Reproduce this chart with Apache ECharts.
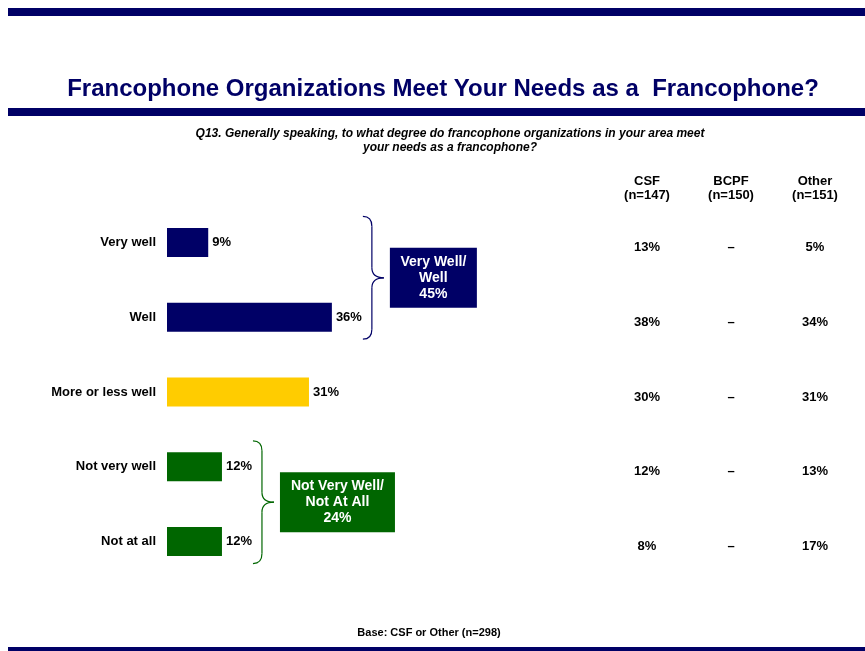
<!DOCTYPE html>
<html>
<head>
<meta charset="utf-8">
<script src="https://cdn.jsdelivr.net/npm/echarts@6/dist/echarts.min.js"></script>
<style>
  html, body { margin: 0; padding: 0; background: #fff; }
  #main { width: 865px; height: 651px; }
</style>
</head>
<body>
<div id="main"></div>
<script>
// data
var categories = ['Very well', 'Well', 'More or less well', 'Not very well', 'Not at all'];
var totalValues = [9, 36, 31, 12, 12];
var barColors = ['#000066', '#000066', '#FFCC00', '#006600', '#006600'];

var columnHeaders = ['CSF\n(n=147)', 'BCPF\n(n=150)', 'Other\n(n=151)'];
var csfValues = [13, 38, 30, 12, 8];
var bcpfValues = [null, null, null, null, null];
var otherValues = [5, 34, 31, 13, 17];

var netLabels = ['Very Well/\nWell', 'Not Very Well/\nNot At All'];
var netValues = [45, 24];
var netRows = [[0, 1], [3, 4]];
var netColors = ['#000066', '#006600'];

var FONT = "'Liberation Sans', Arial, sans-serif";

var myChart = echarts.init(document.getElementById('main'));

var tableColumns = [csfValues, bcpfValues, otherValues];
var tableData = [];
tableColumns.forEach(function (col, c) {
    col.forEach(function (v, r) {
        tableData.push({ value: [c, r], pct: v });
    });
});

var option = {
    animation: false,
    title: [
        {
            text: 'Francophone Organizations Meet Your Needs as a  Francophone?',
            left: 438, top: 72, textAlign: 'center',
            textStyle: { fontFamily: FONT, fontSize: 24, fontWeight: 'bold', color: '#000066' }
        },
        {
            text: 'Q13. Generally speaking, to what degree do francophone organizations in your area meet\nyour needs as a francophone?',
            left: 445, top: 122, textAlign: 'center',
            textStyle: { fontFamily: FONT, fontSize: 12, fontWeight: 'bold', fontStyle: 'italic', color: '#000', lineHeight: 14 }
        },
        {
            text: 'Base: CSF or Other (n=298)',
            left: 424, top: 622, textAlign: 'center',
            textStyle: { fontFamily: FONT, fontSize: 11, fontWeight: 'bold', color: '#000' }
        }
    ],
    grid: [
        { left: 167, top: 205, width: 458, height: 374 },
        { left: 605, top: 205, width: 252, height: 374 }
    ],
    xAxis: [
        { gridIndex: 0, type: 'value', min: 0, max: 100, show: false },
        {
            gridIndex: 1, type: 'category', position: 'top', data: columnHeaders,
            axisLine: { show: false }, axisTick: { show: false },
            axisLabel: { fontFamily: FONT, fontSize: 13, fontWeight: 'bold', color: '#000', lineHeight: 14, margin: 3 }
        }
    ],
    yAxis: [
        {
            gridIndex: 0, type: 'category', inverse: true, data: categories,
            axisLine: { show: false }, axisTick: { show: false },
            axisLabel: { fontFamily: FONT, fontSize: 13, fontWeight: 'bold', color: '#000', margin: 11 }
        },
        { gridIndex: 1, type: 'category', inverse: true, data: categories, show: false }
    ],
    series: [
        {
            type: 'bar', xAxisIndex: 0, yAxisIndex: 0, barWidth: 29,
            data: totalValues.map(function (v, i) {
                return { value: v, itemStyle: { color: barColors[i] } };
            }),
            label: {
                show: true, position: 'right', distance: 4, formatter: '{c}%',
                fontFamily: FONT, fontSize: 13, fontWeight: 'bold', color: '#000'
            }
        },
        {
            type: 'custom', xAxisIndex: 1, yAxisIndex: 1,
            data: tableData,
            renderItem: function (params, api) {
                var pt = api.coord([api.value(0), api.value(1)]);
                var v = tableData[params.dataIndex].pct;
                return {
                    type: 'text', x: pt[0], y: pt[1] + 5,
                    style: {
                        text: v == null ? '\u2013' : v + '%',
                        fill: '#000', font: 'bold 13px ' + FONT,
                        align: 'center', verticalAlign: 'middle'
                    }
                };
            },
            silent: true
        }
    ]
};

myChart.setOption(option);

// page rules, braces and net boxes placed from the chart's own scales
var graphics = [
    { type: 'rect', shape: { x: 8, y: 8, width: 857, height: 8 }, style: { fill: '#000066' } },
    { type: 'rect', shape: { x: 8, y: 108, width: 857, height: 8 }, style: { fill: '#000066' } },
    { type: 'rect', shape: { x: 8, y: 647, width: 857, height: 4 }, style: { fill: '#000066' } }
];
var boxWidths = [87, 115];

function curve(xa, ya, cx, cy, xb, yb, color) {
    return {
        type: 'bezierCurve',
        shape: { x1: xa, y1: ya, cpx1: cx, cpy1: cy, x2: xb, y2: yb },
        style: { fill: null, stroke: color, lineWidth: 1.2 }
    };
}
function seg(xa, ya, xb, yb, color) {
    return {
        type: 'line',
        shape: { x1: xa, y1: ya, x2: xb, y2: yb },
        style: { stroke: color, lineWidth: 1.2 }
    };
}

netRows.forEach(function (rows, g) {
    var maxVal = Math.max.apply(null, rows.map(function (r) { return totalValues[r]; }));
    var x0 = myChart.convertToPixel({ gridIndex: 0 }, [maxVal, 0])[0] + 31;
    var yTop = myChart.convertToPixel({ gridIndex: 0 }, [0, rows[0]])[1] - 26;
    var yBot = myChart.convertToPixel({ gridIndex: 0 }, [0, rows[rows.length - 1]])[1] + 22;
    var yMid = (yTop + yBot) / 2;
    var x1 = x0 + 9, x2 = x0 + 21, r = 10;
    var col = netColors[g];
    graphics.push(curve(x0, yTop, x1, yTop, x1, yTop + r, col));
    graphics.push(seg(x1, yTop + r, x1, yMid - r, col));
    graphics.push(curve(x1, yMid - r, x1, yMid, x2, yMid, col));
    graphics.push(curve(x2, yMid, x1, yMid, x1, yMid + r, col));
    graphics.push(seg(x1, yMid + r, x1, yBot - r, col));
    graphics.push(curve(x1, yBot - r, x1, yBot, x0, yBot, col));

    var bx = x2 + 6, bw = boxWidths[g], bh = 60;
    graphics.push({
        type: 'rect', shape: { x: bx, y: yMid - bh / 2, width: bw, height: bh },
        style: { fill: col }
    });
    graphics.push({
        type: 'text', x: bx + bw / 2, y: yMid,
        style: {
            text: netLabels[g] + '\n' + netValues[g] + '%',
            fill: '#fff', font: 'bold 14px ' + FONT, lineHeight: 16,
            align: 'center', verticalAlign: 'middle'
        }
    });
});

myChart.setOption({ graphic: graphics });
</script>
</body>
</html>
